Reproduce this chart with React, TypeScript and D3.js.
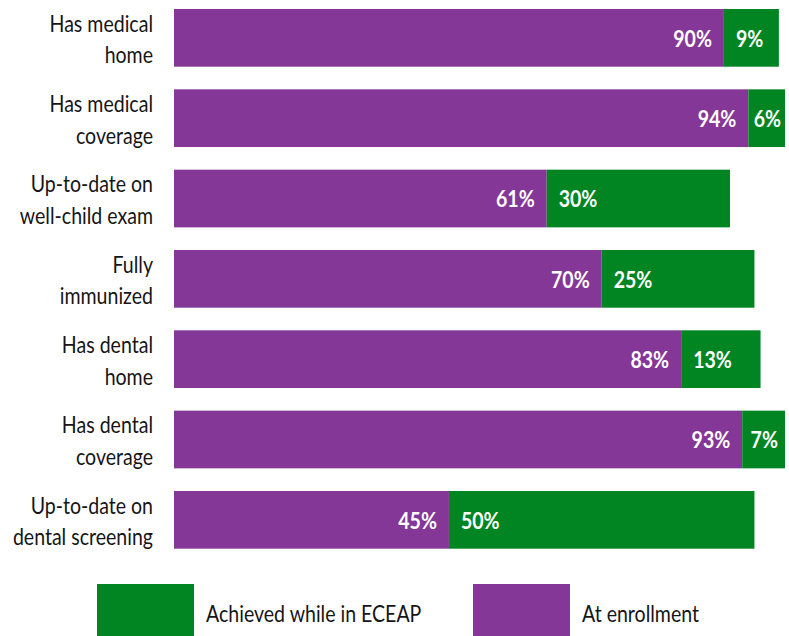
import React from "react";
import * as d3 from "d3";

const categories: string[][] = [
  ["Has medical", "home"],
  ["Has medical", "coverage"],
  ["Up-to-date on", "well-child exam"],
  ["Fully", "immunized"],
  ["Has dental", "home"],
  ["Has dental", "coverage"],
  ["Up-to-date on", "dental screening"],
];
const atEnrollment = [90, 94, 61, 70, 83, 93, 45];
const achieved = [9, 6, 30, 25, 13, 7, 50];
const legendLabels = ["Achieved while in ECEAP", "At enrollment"];

const PURPLE = "#843797";
const GREEN = "#008522";
const FONT = "Lato, 'Open Sans', sans-serif";
const SX = 0.85;

function T(props: {
  x: number;
  y: number;
  anchor?: "start" | "end";
  fill: string;
  bold?: boolean;
  size: number;
  children: React.ReactNode;
}) {
  return (
    <g transform={`translate(${props.x},${props.y}) scale(${SX},1)`}>
      <text
        x={0}
        y={0}
        textAnchor={props.anchor || "start"}
        fill={props.fill}
        fontFamily={FONT}
        fontWeight={props.bold ? "bold" : "normal"}
        fontSize={props.size}
      >
        {props.children}
      </text>
    </g>
  );
}

export default function App() {
  const W = 789, H = 636;
  const x = d3.scaleLinear().domain([0, 100]).range([174, 785]);
  const step = 80.33;
  const bh = 57.7;
  const y = d3
    .scaleBand<number>()
    .domain(d3.range(categories.length))
    .range([9, 9 + step * 6 + bh])
    .paddingInner(1 - bh / step)
    .paddingOuter(0);

  return (
    <svg width={W} height={H} style={{ position: "absolute", left: 0, top: 0 }}>
      <rect width={W} height={H} fill="#fff" />
      {categories.map((lines, i) => {
        const y0 = y(i) as number;
        const h = y.bandwidth();
        const a = atEnrollment[i];
        const b = achieved[i];
        const gLabel = `${b}%`;
        const gw = (gLabel.length - 1) * 11.5 + 14.5;
        const gCenter = (x(a) + x(a + b)) / 2;
        const gx = Math.min(x(a) + 12, gCenter - gw / 2);
        const cy = y0 + h / 2;
        return (
          <g key={i}>
            <rect x={x(0)} y={y0} width={x(a) - x(0)} height={h} fill={PURPLE} />
            <rect x={x(a)} y={y0} width={x(a + b) - x(a)} height={h} fill={GREEN} />
            <T x={x(a) - 12} y={cy + 8.8} anchor="end" fill="#fff" bold size={23}>
              {a}%
            </T>
            <T x={gx} y={cy + 8.8} fill="#fff" bold size={23}>
              {gLabel}
            </T>
            {lines.map((l, j) => (
              <T key={j} x={153} y={y0 + 22.7 + j * 31.5} anchor="end" fill="#151515" size={23}>
                {l}
              </T>
            ))}
          </g>
        );
      })}
      <rect x={97} y={584} width={97} height={60} fill={GREEN} />
      <T x={206} y={622} fill="#151515" size={23}>
        {legendLabels[0]}
      </T>
      <rect x={473} y={584} width={97} height={60} fill={PURPLE} />
      <T x={582} y={622} fill="#151515" size={23}>
        {legendLabels[1]}
      </T>
    </svg>
  );
}
